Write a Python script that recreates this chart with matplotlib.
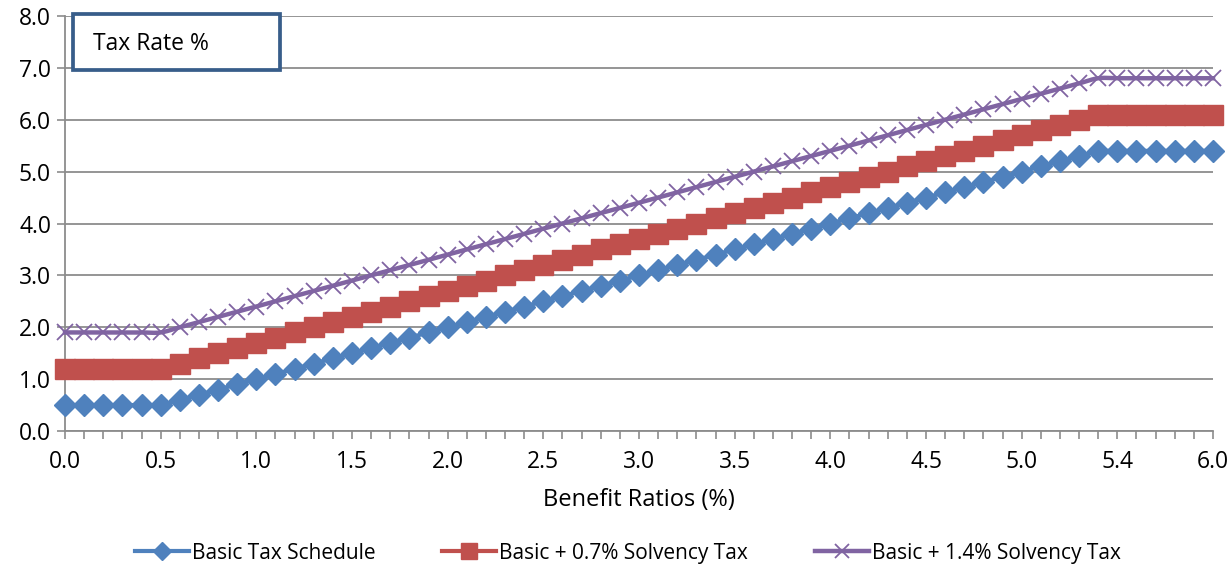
"""
Tax rate schedules vs. benefit ratio: basic schedule and two solvency-tax variants.
"""
import numpy as np
import matplotlib.pyplot as plt
from matplotlib.patches import Rectangle

# ---- data -------------------------------------------------------------
# 61 categories on the x axis (0.0 .. 6.0 in steps of 0.1)
categories = [f"{i / 10:.1f}" for i in range(61)]
# labels shown under every 5th category (as printed on the original)
shown_labels = ["0.0", "0.5", "1.0", "1.5", "2.0", "2.5", "3.0",
                "3.5", "4.0", "4.5", "5.0", "5.4", "6.0"]

basic = [0.5, 0.5, 0.5, 0.5, 0.5, 0.5, 0.6, 0.7, 0.8, 0.9,
         1.0, 1.1, 1.2, 1.3, 1.4, 1.5, 1.6, 1.7, 1.8, 1.9,
         2.0, 2.1, 2.2, 2.3, 2.4, 2.5, 2.6, 2.7, 2.8, 2.9,
         3.0, 3.1, 3.2, 3.3, 3.4, 3.5, 3.6, 3.7, 3.8, 3.9,
         4.0, 4.1, 4.2, 4.3, 4.4, 4.5, 4.6, 4.7, 4.8, 4.9,
         5.0, 5.1, 5.2, 5.3, 5.4, 5.4, 5.4, 5.4, 5.4, 5.4, 5.4]

solvency_07 = [1.2, 1.2, 1.2, 1.2, 1.2, 1.2, 1.3, 1.4, 1.5, 1.6,
               1.7, 1.8, 1.9, 2.0, 2.1, 2.2, 2.3, 2.4, 2.5, 2.6,
               2.7, 2.8, 2.9, 3.0, 3.1, 3.2, 3.3, 3.4, 3.5, 3.6,
               3.7, 3.8, 3.9, 4.0, 4.1, 4.2, 4.3, 4.4, 4.5, 4.6,
               4.7, 4.8, 4.9, 5.0, 5.1, 5.2, 5.3, 5.4, 5.5, 5.6,
               5.7, 5.8, 5.9, 6.0, 6.1, 6.1, 6.1, 6.1, 6.1, 6.1, 6.1]

solvency_14 = [1.9, 1.9, 1.9, 1.9, 1.9, 1.9, 2.0, 2.1, 2.2, 2.3,
               2.4, 2.5, 2.6, 2.7, 2.8, 2.9, 3.0, 3.1, 3.2, 3.3,
               3.4, 3.5, 3.6, 3.7, 3.8, 3.9, 4.0, 4.1, 4.2, 4.3,
               4.4, 4.5, 4.6, 4.7, 4.8, 4.9, 5.0, 5.1, 5.2, 5.3,
               5.4, 5.5, 5.6, 5.7, 5.8, 5.9, 6.0, 6.1, 6.2, 6.3,
               6.4, 6.5, 6.6, 6.7, 6.8, 6.8, 6.8, 6.8, 6.8, 6.8, 6.8]

BLUE = "#4F81BD"
RED = "#C0504D"
PURPLE = "#8064A2"
GRID = "#8C8C8C"
BOX = "#385D8A"


def smooth(x, y, steps=12):
    """Catmull-Rom curve through the points (Excel style smoothed line)."""
    x = np.asarray(x, float)
    y = np.asarray(y, float)
    px = np.concatenate([[x[0]], x, [x[-1]]])
    py = np.concatenate([[y[0]], y, [y[-1]]])
    xs, ys = [], []
    t = np.linspace(0, 1, steps, endpoint=False)
    for i in range(1, len(px) - 2):
        for p, out in ((px, xs), (py, ys)):
            p0, p1, p2, p3 = p[i - 1], p[i], p[i + 1], p[i + 2]
            out.extend(0.5 * ((2 * p1) + (-p0 + p2) * t
                              + (2 * p0 - 5 * p1 + 4 * p2 - p3) * t ** 2
                              + (-p0 + 3 * p1 - 3 * p2 + p3) * t ** 3))
    xs.append(x[-1])
    ys.append(y[-1])
    return xs, ys


plt.rcParams["font.family"] = ["Open Sans", "DejaVu Sans"]

fig = plt.figure(figsize=(12.31, 5.69), dpi=100)
ax = fig.add_axes([0.0528, 0.2425, 0.9326, 0.7294])

x = np.arange(len(categories))

# series
ax.plot(x, basic, color=BLUE, lw=3, marker="D", ms=11, mec=BLUE,
        clip_on=False, zorder=3, label="Basic Tax Schedule")
ax.plot(x, solvency_07, color=RED, lw=3, marker="s", ms=14, mec=RED,
        clip_on=False, zorder=3, label="Basic + 0.7% Solvency Tax")
sx, sy = smooth(x, solvency_14)
ax.plot(sx, sy, color=PURPLE, lw=3.2, clip_on=False, zorder=3)
ax.plot(x, solvency_14, ls="none", marker="x", ms=12, mew=1.3,
        color=PURPLE, clip_on=False, zorder=3)
# legend proxy for the purple series
ax.plot([], [], color=PURPLE, lw=3.2, marker="x", ms=12, mew=1.3,
        label="Basic + 1.4% Solvency Tax")

# axes
ax.set_xlim(0, 60)
ax.set_ylim(0, 8)
ax.set_yticks(np.arange(0, 8.1, 1.0))
ax.set_yticklabels([f"{v:.1f}" for v in np.arange(0, 8.1, 1.0)])
ax.set_xticks(x)
ax.set_xticklabels([shown_labels[i // 5] if i % 5 == 0 else ""
                    for i in range(len(categories))])
ax.tick_params(axis="both", labelsize=16.5, colors=GRID, labelcolor="black",
               length=6, width=1.2)
ax.tick_params(axis="x", pad=8)
ax.tick_params(axis="y", pad=4)
ax.grid(axis="y", color=GRID, lw=1.3)
ax.set_axisbelow(True)
for side in ("top", "right"):
    ax.spines[side].set_visible(False)
for side in ("left", "bottom"):
    ax.spines[side].set_color(GRID)
    ax.spines[side].set_linewidth(1.3)

ax.set_xlabel("Benefit Ratios (%)", fontsize=17, labelpad=10)

# "Tax Rate %" box
box = Rectangle((73 / 1231, 1 - 70 / 569), 207 / 1231, 56 / 569,
                transform=fig.transFigure, fill=True, facecolor="white",
                edgecolor=BOX, lw=2.7, zorder=5)
fig.patches.append(box)
fig.text(93 / 1231, 1 - 44 / 569, "Tax Rate %", fontsize=16.5,
         va="center", ha="left", zorder=6)

fig.legend(loc="center", bbox_to_anchor=(0.51, 0.028), ncol=3, frameon=False,
           fontsize=15, handlelength=2.6, columnspacing=3.2,
           handletextpad=0.15, markerscale=0.8)

fig.savefig("out.png", dpi=100)
